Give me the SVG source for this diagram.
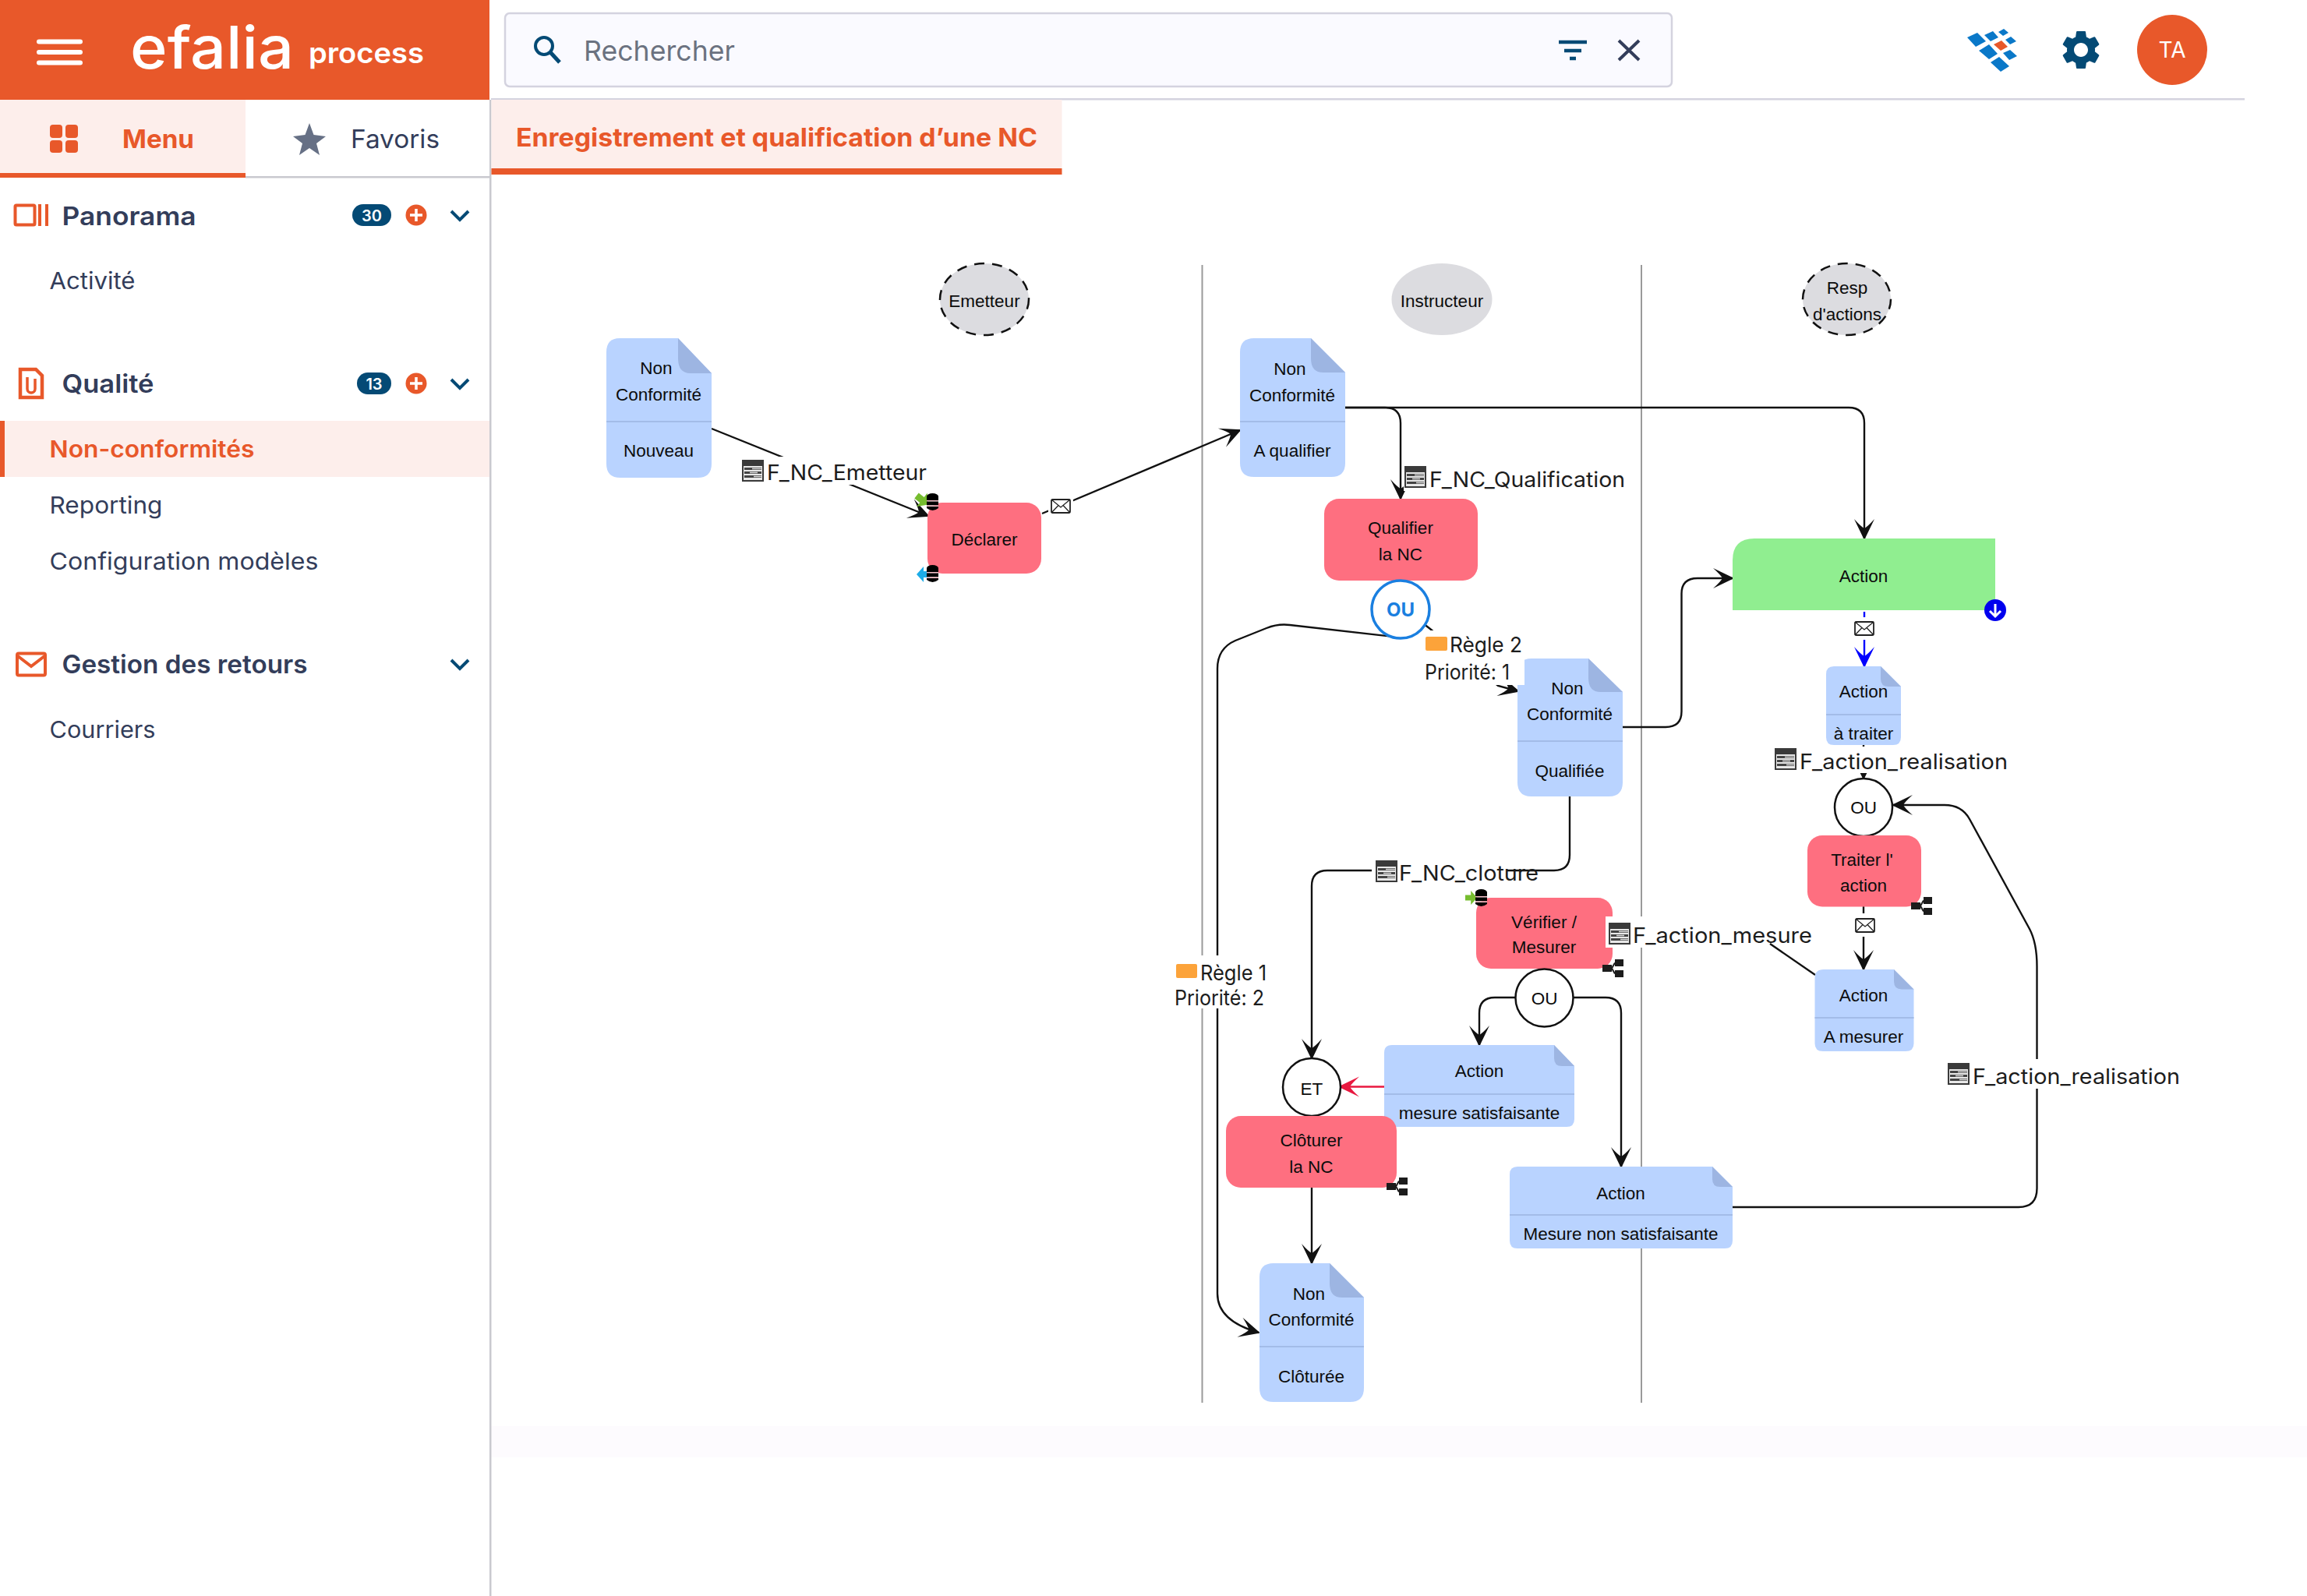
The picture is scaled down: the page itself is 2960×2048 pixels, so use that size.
<svg xmlns="http://www.w3.org/2000/svg" width="2960" height="2048" viewBox="0 0 2960 2048">
<style>
text{font-family:Inter,"Liberation Sans",sans-serif}
.n{font-family:"Liberation Sans",Arial,sans-serif;font-size:22.500px;fill:#0c0c0c;text-anchor:middle}
.l{font-size:27px;fill:#1c1c1c}
.s{font-size:30px;fill:#333d5a}
.h{font-size:32px;font-weight:600;fill:#333d5a}
.doc{fill:#b9d3ff}
.fold{fill:#9db5e2}
.div{stroke:#a3bce8;stroke-width:2;fill:none}
.task{fill:#fe6f80}
.gate{fill:#fff;stroke:#111;stroke-width:2.5}
.actor{fill:#dcdce0}
.dash{stroke:#111;stroke-width:2.5;stroke-dasharray:13 10}
.lane{stroke:#9a9a9a;stroke-width:2}
.c{fill:none;stroke:#111;stroke-width:2.4;marker-end:url(#a)}
.p{fill:none;stroke:#111;stroke-width:2.4}
.bg{fill:#fff}
.chev{fill:none;stroke:#044a75;stroke-width:4}
.or{fill:#e8582a}
</style>
<defs>
<marker id="a" markerUnits="userSpaceOnUse" markerWidth="30" markerHeight="30" viewBox="-26 -15 30 30" refX="0" refY="0" orient="auto"><path d="M2 0L-25-13Q-15-4-13 0Q-15 4-25 13Z" fill="#111"/></marker>
<marker id="ab" markerUnits="userSpaceOnUse" markerWidth="30" markerHeight="30" viewBox="-26 -15 30 30" refX="0" refY="0" orient="auto"><path d="M2 0L-25-13Q-15-4-13 0Q-15 4-25 13Z" fill="#0000ff"/></marker>
<marker id="ar" markerUnits="userSpaceOnUse" markerWidth="30" markerHeight="30" viewBox="-26 -15 30 30" refX="0" refY="0" orient="auto"><path d="M2 0L-25-13Q-15-4-13 0Q-15 4-25 13Z" fill="#e8183f"/></marker>
<g id="mail"><rect x="1" y="1" width="24" height="17" rx="1.500" fill="#fff" stroke="#222" stroke-width="1.800"/><path d="M1 1L13 11L25 1M1 18L10 8.500M25 18L16 8.500" fill="none" stroke="#222" stroke-width="1.300"/></g>
<g id="form"><rect width="28" height="28" fill="#3a3a3a"/><rect x="2" y="8" width="24" height="18" fill="#e8e8e8"/><path d="M3 11.500H25M3 16.500H25M3 21.500H25" stroke="#444" stroke-width="2.800"/><path d="M13 11.500H25M15 21.500H25M10 16.500H20" stroke="#ddd" stroke-width="1.400"/></g>
<g id="db"><ellipse cx="7.500" cy="4" rx="7.500" ry="4" fill="#000"/><rect y="4" width="15" height="5" fill="#000"/><rect y="9" width="15" height="1.500" fill="#f7c0c8"/><rect y="10.500" width="15" height="5" fill="#000"/><rect y="15.500" width="15" height="1.500" fill="#f7c0c8"/><path d="M0 17H15V19Q7.500 25 0 19Z" fill="#000"/></g>
<g id="net"><rect x="0" y="7" width="12" height="9" fill="#1c1c1c"/><rect x="16" y="0" width="11" height="9" fill="#1c1c1c"/><rect x="16" y="14" width="11" height="9" fill="#1c1c1c"/><path d="M12 11.500L16 4.500M12 11.500L16 18.500" stroke="#1c1c1c" stroke-width="2"/></g>
<path id="garr" d="M0-4H8V-10L17 0L8 10V4H0Z"/>
</defs>
<rect width="2960" height="2048" fill="#fff"/>
<rect x="630" y="1830" width="2330" height="40" fill="#fdfbfe"/>

<g id="sidebar">
<rect class="or" width="628" height="128"/>
<path d="M50 53.500H103M50 67H103M50 80.500H103" stroke="#fff" stroke-width="6" stroke-linecap="round"/>
<text x="167" y="88" font-size="76" font-weight="500" fill="#fff" textLength="210" lengthAdjust="spacingAndGlyphs">efalia</text>
<text x="396" y="81" font-size="37" font-weight="600" fill="#fff" textLength="148" lengthAdjust="spacingAndGlyphs">process</text>
<rect y="128" width="315" height="94" fill="#fdeeeb"/><rect class="or" y="222" width="315" height="6"/>
<rect x="315" y="226" width="314" height="2.500" fill="#c9c9cf"/>
<rect x="628" y="128" width="2.500" height="1920" fill="#c9c9cf"/>
<g class="or"><rect x="64" y="160" width="16" height="17" rx="4"/><rect x="84" y="160" width="16" height="17" rx="4"/><rect x="64" y="180" width="16" height="16" rx="4"/><rect x="84" y="180" width="16" height="16" rx="4"/></g>
<text x="157" y="190" font-size="33" font-weight="700" fill="#e8582a" textLength="92" lengthAdjust="spacingAndGlyphs">Menu</text>
<polygon points="397,158 402.500,173 418,175 406,184 410,199 397,190 384,199 388,184 376,175 391.500,173" fill="#667085"/>
<text x="450" y="190" font-size="33" fill="#333d5a" textLength="114" lengthAdjust="spacingAndGlyphs">Favoris</text>

<rect x="19.500" y="263.500" width="25" height="25" rx="1.500" fill="none" stroke="#e8582a" stroke-width="4"/><path d="M51 262V290M60 262V290" stroke="#e8582a" stroke-width="4"/>
<text class="h" x="79.500" y="288.500" textLength="172" lengthAdjust="spacingAndGlyphs">Panorama</text>
<rect x="452" y="262" width="50" height="28" rx="14" fill="#044a75"/><text x="477" y="284" font-size="20" font-weight="600" fill="#fff" text-anchor="middle">30</text>
<circle class="or" cx="534" cy="276" r="13.500"/><path d="M526 276H542M534 268V284" stroke="#fff" stroke-width="3.500"/>
<path class="chev" d="M579 271L590 282L601 271"/>
<text class="s" x="63.500" y="371" textLength="110" lengthAdjust="spacingAndGlyphs">Activité</text>

<path d="M26 474H46L54 482V510H26Z" fill="none" stroke="#e8582a" stroke-width="4.500"/><path d="M35 484V499A5 5 0 0 0 45 499V486" fill="none" stroke="#e8582a" stroke-width="3.500"/>
<text class="h" x="79.500" y="504" textLength="118" lengthAdjust="spacingAndGlyphs">Qualité</text>
<rect x="458" y="478" width="44" height="28" rx="14" fill="#044a75"/><text x="480" y="500" font-size="20" font-weight="600" fill="#fff" text-anchor="middle">13</text>
<circle class="or" cx="534" cy="492" r="13.500"/><path d="M526 492H542M534 484V500" stroke="#fff" stroke-width="3.500"/>
<path class="chev" d="M579 487L590 498L601 487"/>
<rect y="540" width="628" height="72" fill="#fdeeeb"/><rect class="or" y="540" width="6" height="72"/>
<text x="63.500" y="586.500" font-size="30" font-weight="600" fill="#e8582a" textLength="263" lengthAdjust="spacingAndGlyphs">Non-conformités</text>
<text class="s" x="63.500" y="659" textLength="145" lengthAdjust="spacingAndGlyphs">Reporting</text>
<text class="s" x="63.500" y="731" textLength="345" lengthAdjust="spacingAndGlyphs">Configuration modèles</text>

<rect x="22" y="838.500" width="36" height="28" rx="2" fill="none" stroke="#e8582a" stroke-width="4"/><path d="M23 842L40 855L57 842" fill="none" stroke="#e8582a" stroke-width="4"/>
<text class="h" x="79.500" y="864" textLength="315" lengthAdjust="spacingAndGlyphs">Gestion des retours</text>
<path class="chev" d="M579 847L590 858L601 847"/>
<text class="s" x="63.500" y="947" textLength="136" lengthAdjust="spacingAndGlyphs">Courriers</text>
</g>

<g id="topbar">
<rect x="648" y="17" width="1497" height="94" rx="6" fill="#fafaff" stroke="#d4d3df" stroke-width="2.500"/>
<circle cx="698" cy="59" r="11" fill="none" stroke="#044a75" stroke-width="4"/><path d="M706 67L718 80" stroke="#044a75" stroke-width="5"/>
<text x="749" y="78" font-size="36" fill="#6b7280" textLength="194" lengthAdjust="spacingAndGlyphs">Rechercher</text>
<path d="M2000 54H2036M2007 65H2029M2014 75H2022" stroke="#044a75" stroke-width="4.500"/>
<path d="M2077 52L2103 77M2103 52L2077 77" stroke="#333d5a" stroke-width="4"/>
<g fill="#0a78c8"><polygon points="2524,48 2537,42 2548,53 2535,60"/><polygon points="2546,45 2557,40 2564,48 2554,53"/><polygon points="2564,41 2571,37 2577,42 2570,46"/><polygon points="2573,51 2580,47 2587,53 2579,57"/><polygon points="2539,65 2552,57 2563,69 2552,76"/><polygon points="2570,68 2579,64 2588,72 2578,77"/><polygon points="2554,80 2565,73 2578,85 2567,92"/></g>
<polygon points="2558,57 2568,52 2576,60 2567,65" fill="#e8582a"/>
<path transform="translate(2640,34) scale(2.500)" fill="#044a75" d="M19.140 12.940c.04-.3.06-.61.06-.94 0-.32-.02-.64-.07-.94l2.030-1.580c.18-.14.23-.41.12-.61l-1.920-3.320c-.12-.22-.37-.29-.59-.22l-2.390.96c-.5-.38-1.030-.7-1.620-.94l-.36-2.540c-.04-.24-.24-.41-.48-.41h-3.840c-.24 0-.43.17-.47.41l-.36 2.540c-.59.24-1.130.57-1.620.94l-2.390-.96c-.22-.08-.47 0-.59.22L2.740 8.870c-.12.21-.08.47.12.61l2.030 1.580c-.05.3-.09.63-.09.94s.02.64.07.94l-2.030 1.580c-.18.14-.23.41-.12.61l1.920 3.320c.12.22.37.29.59.22l2.390-.96c.5.38 1.030.7 1.620.94l.36 2.540c.05.24.24.41.48.41h3.840c.24 0 .44-.17.47-.41l.36-2.540c.59-.24 1.130-.56 1.620-.94l2.390.96c.22.08.47 0 .59-.22l1.920-3.320c.12-.22.07-.47-.12-.61l-2.010-1.580zM12 15.600c-1.980 0-3.600-1.620-3.600-3.600s1.620-3.600 3.600-3.600 3.600 1.620 3.600 3.600-1.620 3.600-3.600 3.600z"/>
<circle class="or" cx="2787" cy="64" r="45"/><text x="2787" y="74" font-size="28" fill="#fff" text-anchor="middle">TA</text>
<rect x="630" y="126" width="2250" height="2.500" fill="#d4d3df"/>
<rect x="630.500" y="128" width="732" height="88" fill="#fdeeeb"/><rect class="or" x="630.500" y="216" width="732" height="8"/>
<text x="662" y="188" font-size="33" font-weight="700" fill="#e8582a" textLength="669" lengthAdjust="spacingAndGlyphs">Enregistrement et qualification d’une NC</text>
</g>

<g id="lanes"><path class="lane" d="M1542.500 340V1800M2106 340V1800"/></g>

<g id="connectors">
<path class="c" d="M913 550L1191 662"/>
<path class="c" d="M1337 659L1591 552"/>
<path class="c" d="M1726 523H1777Q1797 523 1797 543V640"/>
<path class="c" d="M1726 523H2372Q2392 523 2392 543V691"/>
<path class="c" d="M1826 800L1835 807L1922 880L1948 887"/>
<path class="c" d="M1797 818L1655 802Q1640 800 1625 806L1585 822Q1562 832 1562 858V1660Q1562 1695 1615 1710"/>
<path class="c" d="M2082 933H2137Q2157.500 933 2157.500 913V762Q2157.500 742 2178 742H2223"/>
<path d="M2392 785V855" fill="none" stroke="#0000ff" stroke-width="2.400" marker-end="url(#ab)"/>
<path class="c" d="M2391 956V999"/>
<path class="c" d="M2391 1163V1244"/>
<path class="p" d="M2329 1251L2271 1211"/>
<path class="c" d="M2014 1022V1097Q2014 1117 1994 1117H1703Q1683 1117 1683 1137V1358"/>
<path class="c" d="M1945 1280H1918Q1898 1280 1898 1300V1341"/>
<path class="c" d="M2018 1280H2060Q2080 1280 2080 1300V1497"/>
<path d="M1776 1394.500H1719" fill="none" stroke="#e8183f" stroke-width="2.400" marker-end="url(#ar)"/>
<path class="c" d="M1683 1524V1621"/>
<path class="c" d="M2223 1549H2590Q2613.500 1549 2613.500 1525V1240Q2613.500 1210 2604 1192L2527 1051Q2517 1033 2495 1033H2429"/>
</g>

<g id="n_emetteur"><ellipse class="actor dash" cx="1263" cy="384" rx="57" ry="46"/><text class="n" x="1263" y="394">Emetteur</text></g>
<g id="n_instructeur"><ellipse class="actor" cx="1850" cy="384" rx="64.500" ry="46"/><text class="n" x="1850" y="394">Instructeur</text></g>
<g id="n_resp"><ellipse class="actor dash" cx="2369.500" cy="384" rx="56.500" ry="46"/><text class="n" x="2370" y="377">Resp</text><text class="n" x="2370" y="411">d'actions</text></g>

<g id="n_nc_nouveau"><path class="doc" d="M795 434H870L913 479V595Q913 613 895 613H796Q778 613 778 595V452Q778 434 795 434Z"/><path class="fold" d="M870 434L913 479H886Q870 479 870 460Z"/><path class="div" d="M778 541H913"/><text class="n" x="842" y="480">Non</text><text class="n" x="845" y="514">Conformité</text><text class="n" x="845" y="586">Nouveau</text></g>

<g id="n_declarer"><rect class="task" x="1190" y="645" width="146" height="91" rx="19"/><text class="n" x="1263" y="700">Déclarer</text>
<use href="#garr" transform="translate(1176,636) rotate(38) scale(1.100)" fill="#76bd2f"/><use href="#db" x="1189" y="633"/>
<use href="#garr" transform="translate(1193,737) rotate(180)" fill="#1cace8"/><use href="#db" x="1189" y="725"/></g>

<g id="n_nc_aqualifier"><path class="doc" d="M1609 434H1682L1726 478V594Q1726 612 1708 612H1609Q1591 612 1591 594V452Q1591 434 1609 434Z"/><path class="fold" d="M1682 434L1726 478H1698Q1682 478 1682 460Z"/><path class="div" d="M1591 541H1726"/><text class="n" x="1655" y="481">Non</text><text class="n" x="1658" y="515">Conformité</text><text class="n" x="1658" y="586">A qualifier</text></g>

<g id="n_qualifier"><rect class="task" x="1699" y="640" width="197" height="105" rx="19"/><text class="n" x="1797" y="685">Qualifier</text><text class="n" x="1797" y="719">la NC</text></g>
<g id="n_ou1"><circle cx="1797" cy="782" r="37" fill="#fff" stroke="#1a7fe0" stroke-width="3.500"/><text x="1797" y="791" font-size="24" font-weight="700" fill="#1a7fe0" text-anchor="middle">OU</text></g>

<g id="n_nc_qualifiee"><path class="doc" d="M1965 845H2038L2082 888V1004Q2082 1022 2064 1022H1965Q1947 1022 1947 1004V863Q1947 845 1965 845Z"/><path class="fold" d="M2038 845L2082 888H2054Q2038 888 2038 870Z"/><path class="div" d="M1947 951H2082"/><text class="n" x="2011" y="891">Non</text><text class="n" x="2014" y="924">Conformité</text><text class="n" x="2014" y="997">Qualifiée</text></g>

<g id="n_action"><path d="M2251 691H2560V783H2223V719Q2223 691 2251 691Z" fill="#90ee90"/><text class="n" x="2391" y="747">Action</text><circle cx="2560" cy="783" r="14" fill="#0000ee"/><path d="M2560 775V790M2553 784L2560 791L2567 784" fill="none" stroke="#fff" stroke-width="3"/></g>

<g id="n_atraiter"><path class="doc" d="M2353 855H2413L2439 881V946Q2439 956 2429 956H2353Q2343 956 2343 946V865Q2343 855 2353 855Z"/><path class="fold" d="M2413 855L2439 881H2423Q2413 881 2413 871Z"/><path class="div" d="M2343 917H2439"/><text class="n" x="2391" y="895">Action</text><text class="n" x="2391" y="949">à traiter</text></g>

<g id="n_ou2"><circle class="gate" cx="2391" cy="1036" r="37"/><text class="n" x="2391" y="1044">OU</text></g>
<g id="n_traiter"><rect class="task" x="2319" y="1072" width="146" height="91.500" rx="19"/><text class="n" x="2389" y="1111">Traiter l'</text><text class="n" x="2391" y="1144">action</text><use href="#net" x="2452" y="1151"/></g>

<g id="n_amesurer"><path class="doc" d="M2340 1244H2430L2455.500 1269.500V1339Q2455.500 1349 2445 1349H2339Q2328.500 1349 2328.500 1339V1255Q2328.500 1244 2340 1244Z"/><path class="fold" d="M2430 1244L2455.500 1269.500H2440Q2430 1269.500 2430 1259Z"/><path class="div" d="M2328.500 1306H2455.500"/><text class="n" x="2391" y="1285">Action</text><text class="n" x="2391" y="1338">A mesurer</text></g>

<g id="n_verifier"><rect class="task" x="1894" y="1152" width="175" height="91" rx="19"/><text class="n" x="1981" y="1191">Vérifier /</text><text class="n" x="1981" y="1223">Mesurer</text><use href="#garr" transform="translate(1880,1152) scale(.9)" fill="#76bd2f"/><use href="#db" x="1893" y="1141"/><use href="#net" x="2056" y="1231"/></g>
<g id="n_ou3"><circle class="gate" cx="1981.500" cy="1280.500" r="37"/><text class="n" x="1981.500" y="1289">OU</text></g>

<g id="n_satisfaisante"><path class="doc" d="M1786 1341H1994L2020 1368V1436Q2020 1446 2010 1446H1786Q1776 1446 1776 1436V1351Q1776 1341 1786 1341Z"/><path class="fold" d="M1994 1341L2020 1368H2004Q1994 1368 1994 1358Z"/><path class="div" d="M1776 1404H2020"/><text class="n" x="1898" y="1382">Action</text><text class="n" x="1898" y="1436">mesure satisfaisante</text></g>

<g id="n_nonsatisfaisante"><path class="doc" d="M1947 1497H2197L2223 1523V1592Q2223 1602 2213 1602H1947Q1937 1602 1937 1592V1507Q1937 1497 1947 1497Z"/><path class="fold" d="M2197 1497L2223 1523H2207Q2197 1523 2197 1513Z"/><path class="div" d="M1937 1559H2223"/><text class="n" x="2079.500" y="1539">Action</text><text class="n" x="2079.500" y="1591">Mesure non satisfaisante</text></g>

<g id="n_et"><circle class="gate" cx="1683" cy="1395" r="37"/><text class="n" x="1683" y="1405">ET</text></g>
<g id="n_cloturer"><rect class="task" x="1573" y="1432" width="219" height="92" rx="19"/><text class="n" x="1682.500" y="1471">Clôturer</text><text class="n" x="1682.500" y="1505">la NC</text><use href="#net" x="1779" y="1511"/></g>

<g id="n_nc_cloturee"><path class="doc" d="M1634 1621H1706L1750 1665V1781Q1750 1799 1732 1799H1634Q1616 1799 1616 1781V1639Q1616 1621 1634 1621Z"/><path class="fold" d="M1706 1621L1750 1665H1722Q1706 1665 1706 1647Z"/><path class="div" d="M1616 1728H1750"/><text class="n" x="1679.500" y="1668">Non</text><text class="n" x="1682.500" y="1701">Conformité</text><text class="n" x="1682.500" y="1774">Clôturée</text></g>

<g id="labels">
<rect class="bg" x="950" y="586" width="243" height="36"/><use href="#form" x="952" y="590"/><text class="l" x="984" y="616" textLength="205" lengthAdjust="spacingAndGlyphs">F_NC_Emetteur</text>
<rect class="bg" x="1345" y="636" width="32" height="26"/><use href="#mail" x="1348" y="640"/>
<rect class="bg" x="1801" y="594" width="288" height="36"/><use href="#form" x="1802" y="598"/><text class="l" x="1834" y="625" textLength="251" lengthAdjust="spacingAndGlyphs">F_NC_Qualification</text>
<rect class="bg" x="1826" y="809" width="130" height="70"/><rect x="1829" y="817" width="28" height="18" rx="2" fill="#fca33a"/><text class="l" x="1860" y="837" textLength="93" lengthAdjust="spacingAndGlyphs">Règle 2</text><text class="l" x="1828" y="872" textLength="109" lengthAdjust="spacingAndGlyphs">Priorité: 1</text>
<rect class="bg" x="2376" y="792" width="32" height="29"/><use href="#mail" x="2379" y="797"/>
<rect class="bg" x="2274" y="958" width="305" height="34"/><use href="#form" x="2277" y="960"/><text class="l" x="2309" y="986.500" textLength="267" lengthAdjust="spacingAndGlyphs">F_action_realisation</text>
<rect class="bg" x="1760" y="1100" width="174" height="38"/><use href="#form" x="1765" y="1104"/><text class="l" x="1795" y="1130" textLength="179" lengthAdjust="spacingAndGlyphs">F_NC_cloture</text>
<rect class="bg" x="2060" y="1176" width="140" height="40"/><use href="#form" x="2064" y="1184"/><text class="l" x="2095" y="1210" textLength="230" lengthAdjust="spacingAndGlyphs">F_action_mesure</text>
<rect class="bg" x="2377" y="1172" width="30" height="30"/><use href="#mail" x="2380" y="1178"/>
<rect class="bg" x="1505" y="1226" width="124" height="68"/><rect x="1509" y="1237" width="27" height="18" rx="2" fill="#fca33a"/><text class="l" x="1540" y="1258" textLength="85" lengthAdjust="spacingAndGlyphs">Règle 1</text><text class="l" x="1507" y="1290" textLength="115" lengthAdjust="spacingAndGlyphs">Priorité: 2</text>
<rect class="bg" x="2496" y="1359" width="305" height="38"/><use href="#form" x="2499" y="1364"/><text class="l" x="2531" y="1391" textLength="266" lengthAdjust="spacingAndGlyphs">F_action_realisation</text>
</g>
</svg>
